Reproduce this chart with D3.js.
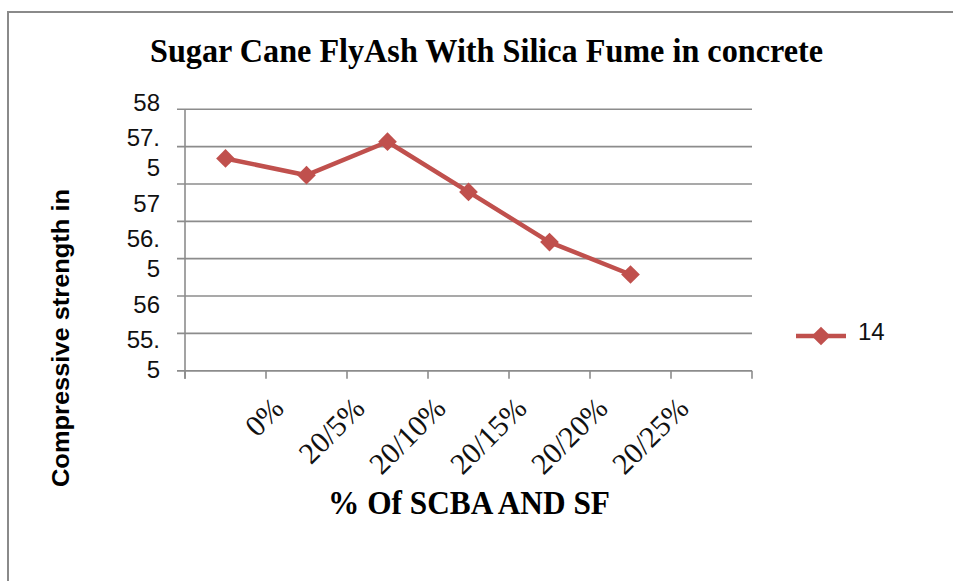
<!DOCTYPE html>
<html>
<head>
<meta charset="utf-8">
<script src="https://cdn.jsdelivr.net/npm/d3@7"></script>
<style>
  html, body { margin: 0; padding: 0; background: #fff; }
  svg { display: block; }
</style>
</head>
<body>
<svg id="chart" width="953" height="581"></svg>
<script>
// Compressive strength (14 days) for each SCBA / SF replacement level
const categories = ["0%", "20/5%", "20/10%", "20/15%", "20/20%", "20/25%", ""];
const strength14 = [57.53, 57.37, 57.69, 57.21, 56.73, 56.42];
const seriesName = "14";
const yTickLabels = ["58", "57.5", "57", "56.5", "56", "55.5"];
const yDomain = [55.5, 58];
const gridCount = 8;

const chartTitle = "Sugar Cane FlyAsh With Silica Fume in concrete";
const xTitle = "% Of SCBA AND SF";
const yTitle = "Compressive strength in";

const red = "#C0504D";
const gridColor = "#8c8c8c";

const svg = d3.select("#chart");

// outer frame (left and top edges)
svg.append("path")
  .attr("d", "M8,581 L8,12 L953,12")
  .attr("fill", "none")
  .attr("stroke", "#8a8a8a")
  .attr("stroke-width", 2);

const plot = { left: 185, right: 752, top: 109.3, bottom: 370.7 };

const x = d3.scaleBand()
  .domain(categories.map((c, i) => i))
  .range([plot.left, plot.right])
  .padding(0);

const y = d3.scaleLinear()
  .domain(yDomain)
  .range([plot.bottom, plot.top]);

// horizontal gridlines, evenly spread over the value range
const gridY = d3.range(gridCount).map(i => plot.top + i * (plot.bottom - plot.top) / (gridCount - 1));
svg.append("g").selectAll("line").data(gridY).join("line")
  .attr("x1", plot.left - 8).attr("x2", plot.right)
  .attr("y1", d => d).attr("y2", d => d)
  .attr("stroke", gridColor).attr("stroke-width", 1.6);

// value axis line
svg.append("line")
  .attr("x1", plot.left).attr("x2", plot.left)
  .attr("y1", plot.top).attr("y2", plot.bottom + 8)
  .attr("stroke", gridColor).attr("stroke-width", 1.6);

// category axis with boundary ticks
const xAxis = svg.append("g");
xAxis.append("line")
  .attr("x1", plot.left - 8).attr("x2", plot.right)
  .attr("y1", plot.bottom).attr("y2", plot.bottom)
  .attr("stroke", gridColor).attr("stroke-width", 1.6);
const boundaries = categories.map((c, i) => x(i)).concat([plot.right]);
xAxis.selectAll("line.tick").data(boundaries).join("line")
  .attr("class", "tick")
  .attr("x1", d => d).attr("x2", d => d)
  .attr("y1", plot.bottom).attr("y2", plot.bottom + 8)
  .attr("stroke", gridColor).attr("stroke-width", 1.6);

// value labels (narrow label box wraps the decimals onto a second line)
const yLabelPos = d3.scaleLinear().domain([58, 55.5]).range([102, 354]);
const yl = svg.append("g")
  .attr("font-family", "Liberation Sans, Arial, sans-serif")
  .attr("font-size", 24)
  .attr("fill", "#111")
  .attr("text-anchor", "end");
yTickLabels.forEach(lbl => {
  const lines = lbl.length > 3 ? [lbl.slice(0, 3), lbl.slice(3)] : [lbl];
  const c = yLabelPos(+lbl);
  lines.forEach((ln, j) => {
    const off = lines.length === 1 ? 0 : (j === 0 ? -15 : 15);
    yl.append("text")
      .attr("x", 160)
      .attr("y", c + off + 9)
      .text(ln);
  });
});

// category labels, rotated
const xl = svg.append("g")
  .attr("font-family", "Liberation Serif, 'Times New Roman', serif")
  .attr("font-size", 30)
  .attr("fill", "#111");
categories.forEach((c, i) => {
  if (!c) return;
  const cx = x(i) + x.bandwidth() / 2 + 60;
  const cy = 410;
  xl.append("text")
    .attr("text-anchor", "end")
    .attr("transform", `translate(${cx},${cy}) rotate(-45)`)
    .text(c);
});

// series line and markers
const pts = strength14.map((v, i) => [x(i) + x.bandwidth() / 2, y(v)]);
svg.append("path")
  .attr("d", d3.line()(pts))
  .attr("fill", "none")
  .attr("stroke", red)
  .attr("stroke-width", 4.5)
  .attr("stroke-linejoin", "round");

const diamond = d3.symbol().type(d3.symbolSquare).size(175);
svg.append("g").selectAll("path").data(pts).join("path")
  .attr("d", diamond)
  .attr("transform", d => `translate(${d[0]},${d[1]}) rotate(45)`)
  .attr("fill", red);

// legend
const lg = svg.append("g");
lg.append("line")
  .attr("x1", 796).attr("x2", 846).attr("y1", 336).attr("y2", 336)
  .attr("stroke", red).attr("stroke-width", 4.5);
lg.append("path")
  .attr("d", diamond)
  .attr("transform", "translate(821,336) rotate(45)")
  .attr("fill", red);
lg.append("text")
  .attr("x", 858).attr("y", 340)
  .attr("font-family", "Liberation Sans, Arial, sans-serif")
  .attr("font-size", 24)
  .attr("fill", "#111")
  .text(seriesName);

// titles
svg.append("text")
  .attr("x", 150).attr("y", 62)
  .attr("font-family", "Liberation Serif, 'Times New Roman', serif")
  .attr("font-weight", "bold")
  .attr("font-size", 34)
  .attr("textLength", 673)
  .attr("lengthAdjust", "spacingAndGlyphs")
  .attr("fill", "#000")
  .text(chartTitle);

svg.append("text")
  .attr("x", 328).attr("y", 514)
  .attr("font-family", "Liberation Serif, 'Times New Roman', serif")
  .attr("font-weight", "bold")
  .attr("font-size", 33)
  .attr("textLength", 282)
  .attr("lengthAdjust", "spacingAndGlyphs")
  .attr("fill", "#000")
  .text(xTitle);

svg.append("text")
  .attr("transform", "translate(69,487) rotate(-90)")
  .attr("font-family", "Liberation Sans, Arial, sans-serif")
  .attr("font-weight", "bold")
  .attr("font-size", 23)
  .attr("textLength", 298)
  .attr("lengthAdjust", "spacingAndGlyphs")
  .attr("fill", "#000")
  .text(yTitle);
</script>
</body>
</html>
